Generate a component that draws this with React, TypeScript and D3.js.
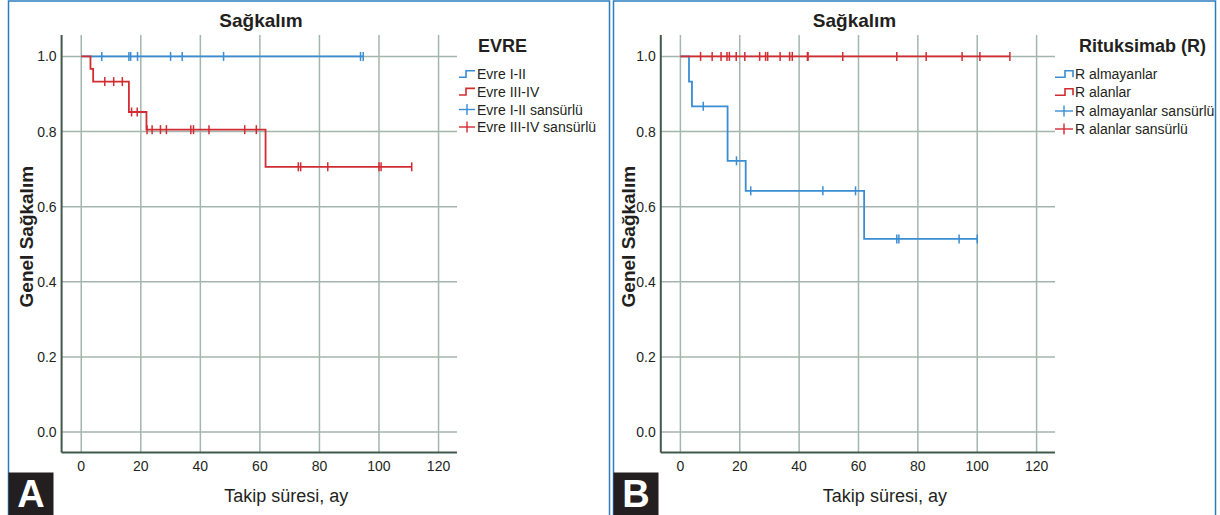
import React, { useEffect, useRef } from 'react';
import * as d3 from 'd3';

// axis ticks
const xTicks = [0, 20, 40, 60, 80, 100, 120];
const yTicks = [0, 0.2, 0.4, 0.6, 0.8, 1.0];

// Panel A - EVRE
const evreLabels = ['Evre I-II', 'Evre III-IV', 'Evre I-II sansürlü', 'Evre III-IV sansürlü'];
const evre12Times = [0, 94.7];
const evre12Surv = [1, 1];
const evre12Censored = [6.9, 16.0, 16.6, 18.9, 30.0, 33.9, 47.8, 93.8, 94.7];
const evre34Times = [0, 3.1, 4.0, 16.0, 21.9, 61.9, 111];
const evre34Surv = [1, 0.967, 0.933, 0.852, 0.805, 0.706, 0.706];
const evre34Censored = [7.9, 10.9, 13.8, 16.9, 18.8, 22.1, 23.8, 26.6, 28.6, 36.8, 37.7, 42.9, 54.9, 58.8, 72.9, 73.7, 82.8, 100.0, 100.7, 111.0];

// Panel B - Rituksimab
const rLabels = ['R almayanlar', 'R alanlar', 'R almayanlar sansürlü', 'R alanlar sansürlü'];
const rNoTimes = [0, 2.9, 3.9, 15.9, 22.0, 61.9, 100];
const rNoSurv = [1, 0.933, 0.867, 0.722, 0.642, 0.514, 0.514];
const rNoCensored = [7.7, 18.9, 23.7, 48.0, 59.0, 72.9, 73.6, 93.9, 100];
const rYesTimes = [0, 111];
const rYesSurv = [1, 1];
const rYesCensored = [6.8, 10.7, 13.7, 15.7, 16.5, 18.8, 21.7, 26.7, 28.7, 29.4, 33.6, 36.8, 37.7, 42.8, 43.0, 54.7, 72.9, 82.8, 94.9, 100.9, 111.0];

const W = 1220;
const H = 515;
const BLUE = '#3a8dd3';
const RED = '#d22c33';
const GRID = '#a3b6ad';
const AXIS = '#41584c';
const FRAME = '#2d7cbf';
const TEXT = '#231f20';
const FONT = '"Liberation Sans", Arial, sans-serif';

const xDomain = [-6.6, 126.2];
const yDomain = [-0.0546, 1.057];
const plotBottom = 452.5;
const plotTop = 35;

const panels = [
  {
    frame: [8.5, 609.5], plot: [61.6, 457], titleX: 261, yTitleX: 32.5, badge: 'A',
    legendTitle: 'EVRE', legendTitleX: 478, symX: 459, textX: 477,
    legendYs: [79, 96.7, 114.5, 132], stepShape: 'up', labels: evreLabels,
    series: [
      { times: evre12Times, surv: evre12Surv, censored: evre12Censored, color: BLUE },
      { times: evre34Times, surv: evre34Surv, censored: evre34Censored, color: RED },
    ],
  },
  {
    frame: [613.5, 1215.5], plot: [660.8, 1055], titleX: 854.5, yTitleX: 635, badge: 'B',
    legendTitle: 'Rituksimab (R)', legendTitleX: 1079, symX: 1055, textX: 1075,
    legendYs: [79, 97, 116, 134], stepShape: 'cap', labels: rLabels,
    series: [
      { times: rNoTimes, surv: rNoSurv, censored: rNoCensored, color: BLUE },
      { times: rYesTimes, surv: rYesSurv, censored: rYesCensored, color: RED },
    ],
  },
];

function drawPanel(svg: any, p: any) {
  const x = d3.scaleLinear().domain(xDomain).range(p.plot);
  const y = d3.scaleLinear().domain(yDomain).range([plotBottom, plotTop]);
  const g = svg.append('g');
  const cx = (p.plot[0] + p.plot[1]) / 2;

  // panel frame
  g.append('rect')
    .attr('x', p.frame[0]).attr('y', 1)
    .attr('width', p.frame[1] - p.frame[0]).attr('height', H + 10)
    .attr('fill', 'none').attr('stroke', FRAME).attr('stroke-width', 1.5);

  // grid
  g.selectAll('.vgrid').data(xTicks).enter().append('line')
    .attr('x1', (d: number) => x(d)).attr('x2', (d: number) => x(d))
    .attr('y1', plotTop).attr('y2', plotBottom)
    .attr('stroke', GRID).attr('stroke-width', 1.5);
  g.selectAll('.hgrid').data(yTicks).enter().append('line')
    .attr('x1', p.plot[0]).attr('x2', p.plot[1])
    .attr('y1', (d: number) => y(d)).attr('y2', (d: number) => y(d))
    .attr('stroke', GRID).attr('stroke-width', 1.5);

  // axis lines
  g.append('line').attr('x1', p.plot[0]).attr('x2', p.plot[0])
    .attr('y1', plotTop).attr('y2', plotBottom)
    .attr('stroke', AXIS).attr('stroke-width', 2);
  g.append('line').attr('x1', p.plot[0]).attr('x2', p.plot[1])
    .attr('y1', plotBottom).attr('y2', plotBottom)
    .attr('stroke', AXIS).attr('stroke-width', 2);

  // tick labels
  g.selectAll('.xlab').data(xTicks).enter().append('text')
    .attr('x', (d: number) => x(d)).attr('y', 471)
    .attr('text-anchor', 'middle').attr('font-size', 14)
    .attr('font-family', FONT).attr('fill', TEXT)
    .text((d: number) => d);
  g.selectAll('.ylab').data(yTicks).enter().append('text')
    .attr('x', p.plot[0] - 5).attr('y', (d: number) => y(d) + 5)
    .attr('text-anchor', 'end').attr('font-size', 14)
    .attr('font-family', FONT).attr('fill', TEXT)
    .text((d: number) => d3.format('.1f')(d));

  // titles
  g.append('text').attr('x', p.titleX).attr('y', 27)
    .attr('text-anchor', 'middle').attr('font-size', 19).attr('font-weight', 'bold')
    .attr('font-family', FONT).attr('fill', TEXT).text('Sağkalım');
  g.append('text').attr('x', cx + 27).attr('y', 502)
    .attr('text-anchor', 'middle').attr('font-size', 18)
    .attr('font-family', FONT).attr('fill', TEXT).text('Takip süresi, ay');
  g.append('text')
    .attr('transform', `translate(${p.yTitleX},${y(0.52)}) rotate(-90)`)
    .attr('text-anchor', 'middle').attr('font-size', 19).attr('font-weight', 'bold')
    .attr('font-family', FONT).attr('fill', TEXT).text('Genel Sağkalım');

  // badge
  g.append('rect').attr('x', p.frame[0]).attr('y', 472.5)
    .attr('width', 45).attr('height', 45).attr('fill', '#231f20');
  g.append('text').attr('x', p.frame[0] + 22.5).attr('y', 506.5)
    .attr('text-anchor', 'middle').attr('font-size', 38).attr('font-weight', 'bold')
    .attr('font-family', FONT).attr('fill', '#fff').text(p.badge);

  // survival curves
  const line = d3.line<[number, number]>()
    .x(d => x(d[0])).y(d => y(d[1]))
    .curve(d3.curveStepAfter);

  p.series.forEach((s: any) => {
    const pts: [number, number][] = s.times.map((t: number, i: number) => [t, s.surv[i]]);
    g.append('path').attr('d', line(pts))
      .attr('fill', 'none').attr('stroke', s.color).attr('stroke-width', 1.8);

    const survAt = (t: number) => {
      let v = s.surv[0];
      s.times.forEach((tt: number, i: number) => { if (tt <= t) v = s.surv[i]; });
      return v;
    };
    g.selectAll(null).data(s.censored).enter().append('line')
      .attr('x1', (d: number) => x(d)).attr('x2', (d: number) => x(d))
      .attr('y1', (d: number) => y(survAt(d)) - 4.5)
      .attr('y2', (d: number) => y(survAt(d)) + 4.5)
      .attr('stroke', s.color).attr('stroke-width', 1.5);
  });

  // legend
  g.append('text').attr('x', p.legendTitleX).attr('y', 52)
    .attr('font-size', 18).attr('font-weight', 'bold')
    .attr('font-family', FONT).attr('fill', TEXT).text(p.legendTitle);

  const colors = [BLUE, RED, BLUE, RED];
  p.labels.forEach((label: string, i: number) => {
    const by = p.legendYs[i];
    const my = by - 5;
    const sx = p.symX;
    if (i < 2) {
      const d = p.stepShape === 'up'
        ? `M${sx},${my + 3.3}H${sx + 7}V${my - 3.3}H${sx + 16}`
        : `M${sx},${my + 3.3}H${sx + 10}V${my - 3.3}H${sx + 18}V${my + 3.3}`;
      g.append('path').attr('d', d).attr('fill', 'none')
        .attr('stroke', colors[i]).attr('stroke-width', 1.6);
    } else {
      const w = p.stepShape === 'up' ? 16 : 18;
      g.append('line').attr('x1', sx).attr('x2', sx + w).attr('y1', my).attr('y2', my)
        .attr('stroke', colors[i]).attr('stroke-width', 1.4);
      g.append('line').attr('x1', sx + w / 2).attr('x2', sx + w / 2)
        .attr('y1', my - 5.5).attr('y2', my + 5.5)
        .attr('stroke', colors[i]).attr('stroke-width', 1.4);
    }
    g.append('text').attr('x', p.textX).attr('y', by)
      .attr('font-size', 14).attr('font-family', FONT).attr('fill', TEXT)
      .text(label);
  });
}

const App = () => {
  const svgRef = useRef<SVGSVGElement | null>(null);

  useEffect(() => {
    const svg = d3.select(svgRef.current);
    svg.selectAll('*').remove();
    svg.append('rect').attr('width', W).attr('height', H).attr('fill', '#fff');
    panels.forEach(p => drawPanel(svg, p));
  }, []);

  return (
    <svg ref={svgRef} width={W} height={H}
      style={{ position: 'absolute', left: 0, top: 0, display: 'block' }}></svg>
  );
};

export default App;
